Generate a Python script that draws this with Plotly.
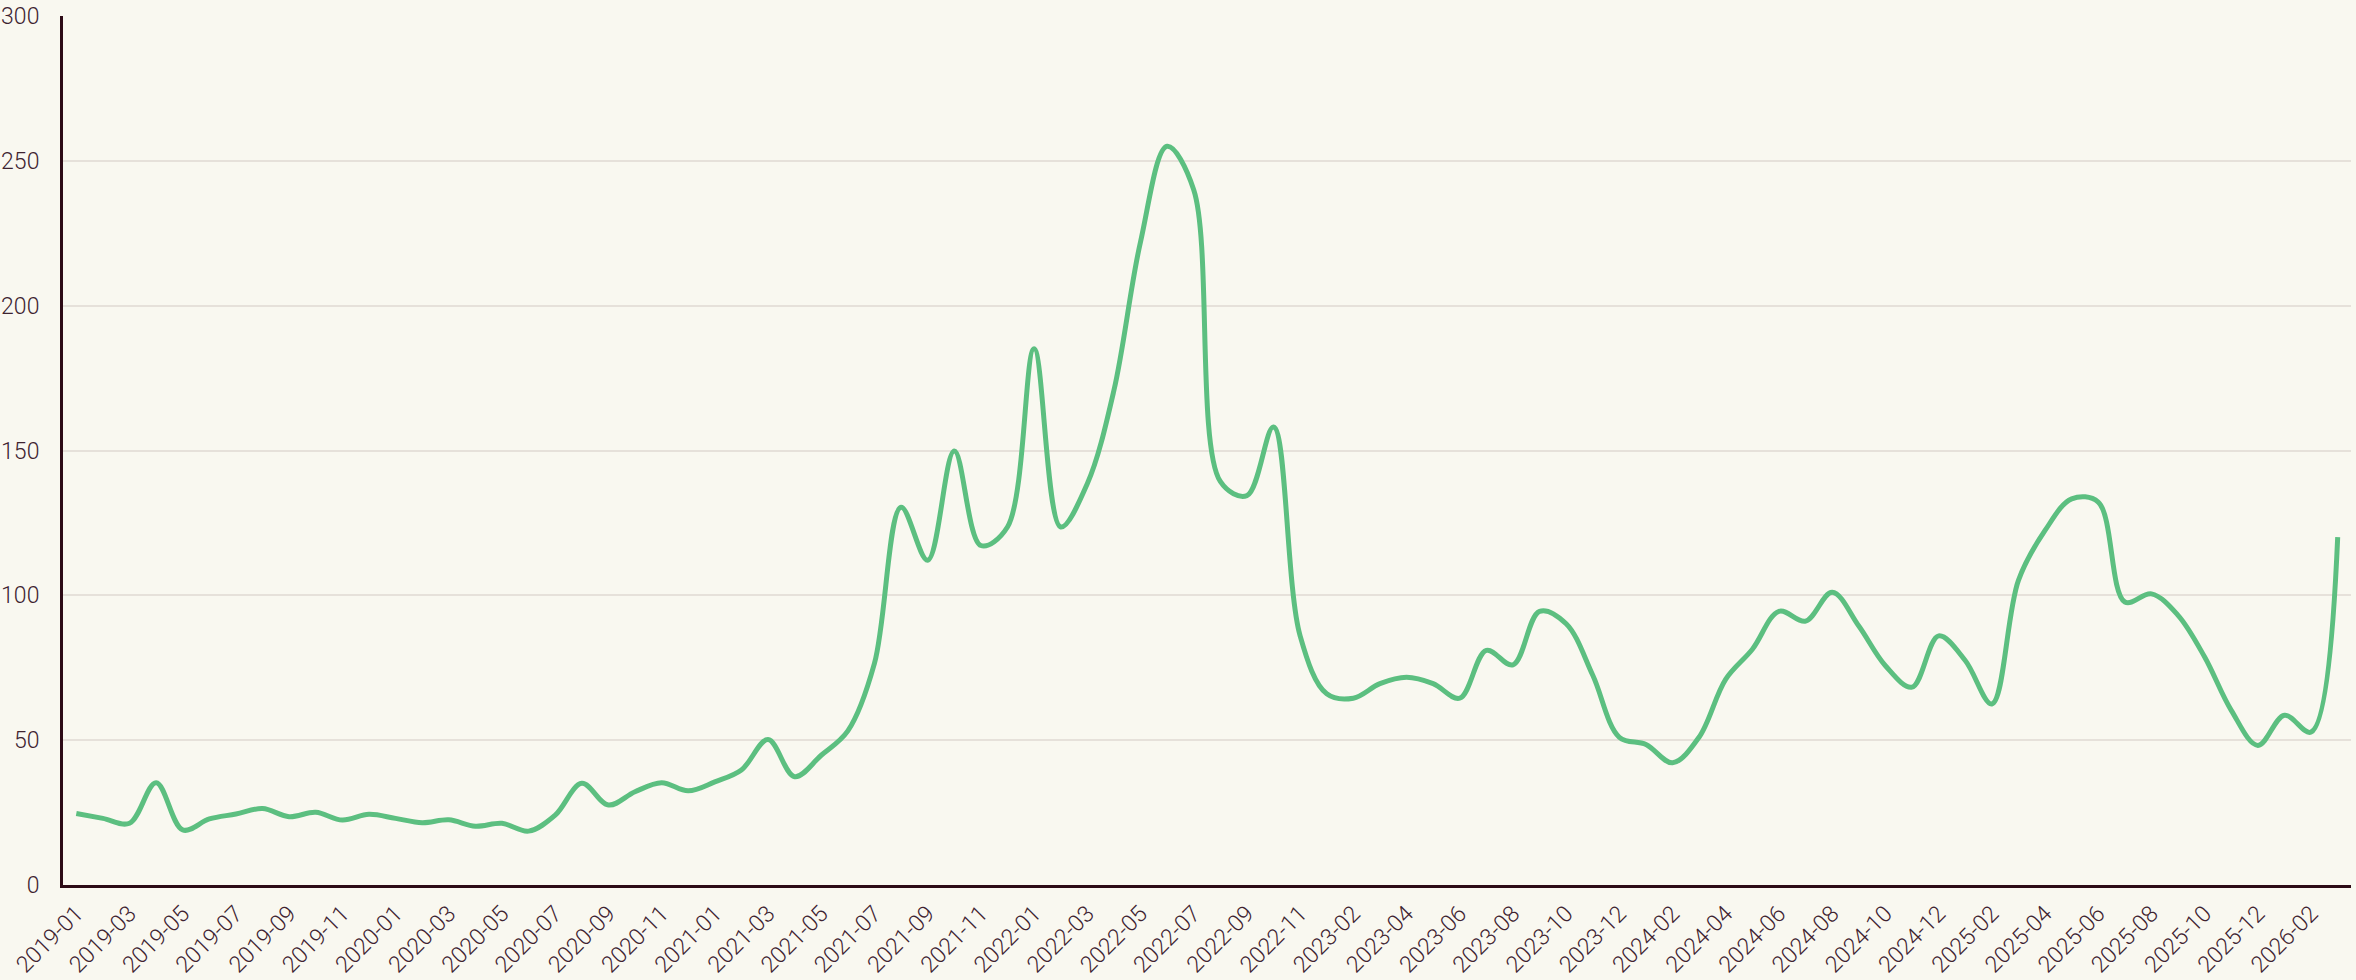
import plotly.graph_objects as go

BG = "#f9f8f0"
LINE_COLOR = "#5cbf80"
AXIS_COLOR = "#2d0b16"
TEXT_COLOR = "#3e2330"
GRID_COLOR = "#e6e1da"

# monthly periods (one month, 2023-01, is absent from the source data)
months = (
    [f"{y}-{m:02d}" for y in range(2019, 2022) for m in range(1, 13)]
    + [f"2022-{m:02d}" for m in range(1, 13)]
    + [f"2023-{m:02d}" for m in range(2, 13)]
    + [f"{y}-{m:02d}" for y in range(2024, 2026) for m in range(1, 13)]
    + ["2026-01", "2026-02", "2026-03"]
)

values = [
    24.7, 23.0, 21.3, 35.3, 19.0, 22.8, 24.5, 26.4, 23.6, 25.1, 22.4, 24.4,
    23.0, 21.5, 22.5, 20.3, 21.3, 18.6, 24.1, 35.1, 27.6, 32.2, 35.3, 32.5,
    35.6, 39.7, 50.2, 37.4, 44.8, 53.2, 76.5, 130.4, 112.1, 149.8, 117.2, 123.6,
    185.1, 123.6, 138.5, 170.7, 222.0, 255.0, 240.0, 139.3, 134.4, 158.1, 86.0, 66.0,
    64.5, 69.5, 71.7, 69.5, 64.5, 81.0, 76.0, 94.5, 90.2, 72.4, 51.0,
    48.5, 42.2, 51.1, 71.1, 81.4, 94.5, 91.1, 101.1, 89.4, 75.7, 68.3, 86.0, 77.5,
    62.5, 105.2, 122.4, 133.3, 132.2, 97.7, 100.5, 93.1, 78.7, 60.3, 48.2, 58.6,
    52.8, 120.1,
]

tick_labels = months[::2]

tick_font = dict(family="Roboto", size=23, color=TEXT_COLOR, weight=300)

fig = go.Figure()
fig.add_trace(go.Scatter(
    x=months,
    y=values,
    mode="lines",
    line=dict(color=LINE_COLOR, width=5, shape="spline"),
    showlegend=False,
))

fig.update_layout(
    width=2356,
    height=980,
    paper_bgcolor=BG,
    plot_bgcolor=BG,
    margin=dict(l=63, r=5, t=16, b=95),
    font=dict(family="Roboto", size=23, color=TEXT_COLOR, weight=300),
    xaxis=dict(
        type="category",
        range=[-0.5, len(months) - 0.5],
        tickmode="array",
        tickvals=tick_labels,
        ticktext=tick_labels,
        tickangle=-45,
        automargin=False,
        showgrid=False,
        showline=True,
        linecolor=AXIS_COLOR,
        linewidth=3,
        ticks="outside",
        ticklen=3,
        tickcolor=BG,
        tickfont=tick_font,
    ),
    yaxis=dict(
        range=[0, 300],
        dtick=50,
        automargin=False,
        showgrid=True,
        gridcolor=GRID_COLOR,
        gridwidth=2,
        zeroline=False,
        showline=True,
        linecolor=AXIS_COLOR,
        linewidth=3,
        ticks="outside",
        ticklen=16,
        tickcolor=BG,
        tickfont=tick_font,
    ),
)

# drop the browser's default body margin so the figure sits at the page corner
fig.write_html(
    "out.html",
    config={"displayModeBar": False},
    post_script="document.body.style.margin='0';document.body.style.overflow='hidden';",
)
